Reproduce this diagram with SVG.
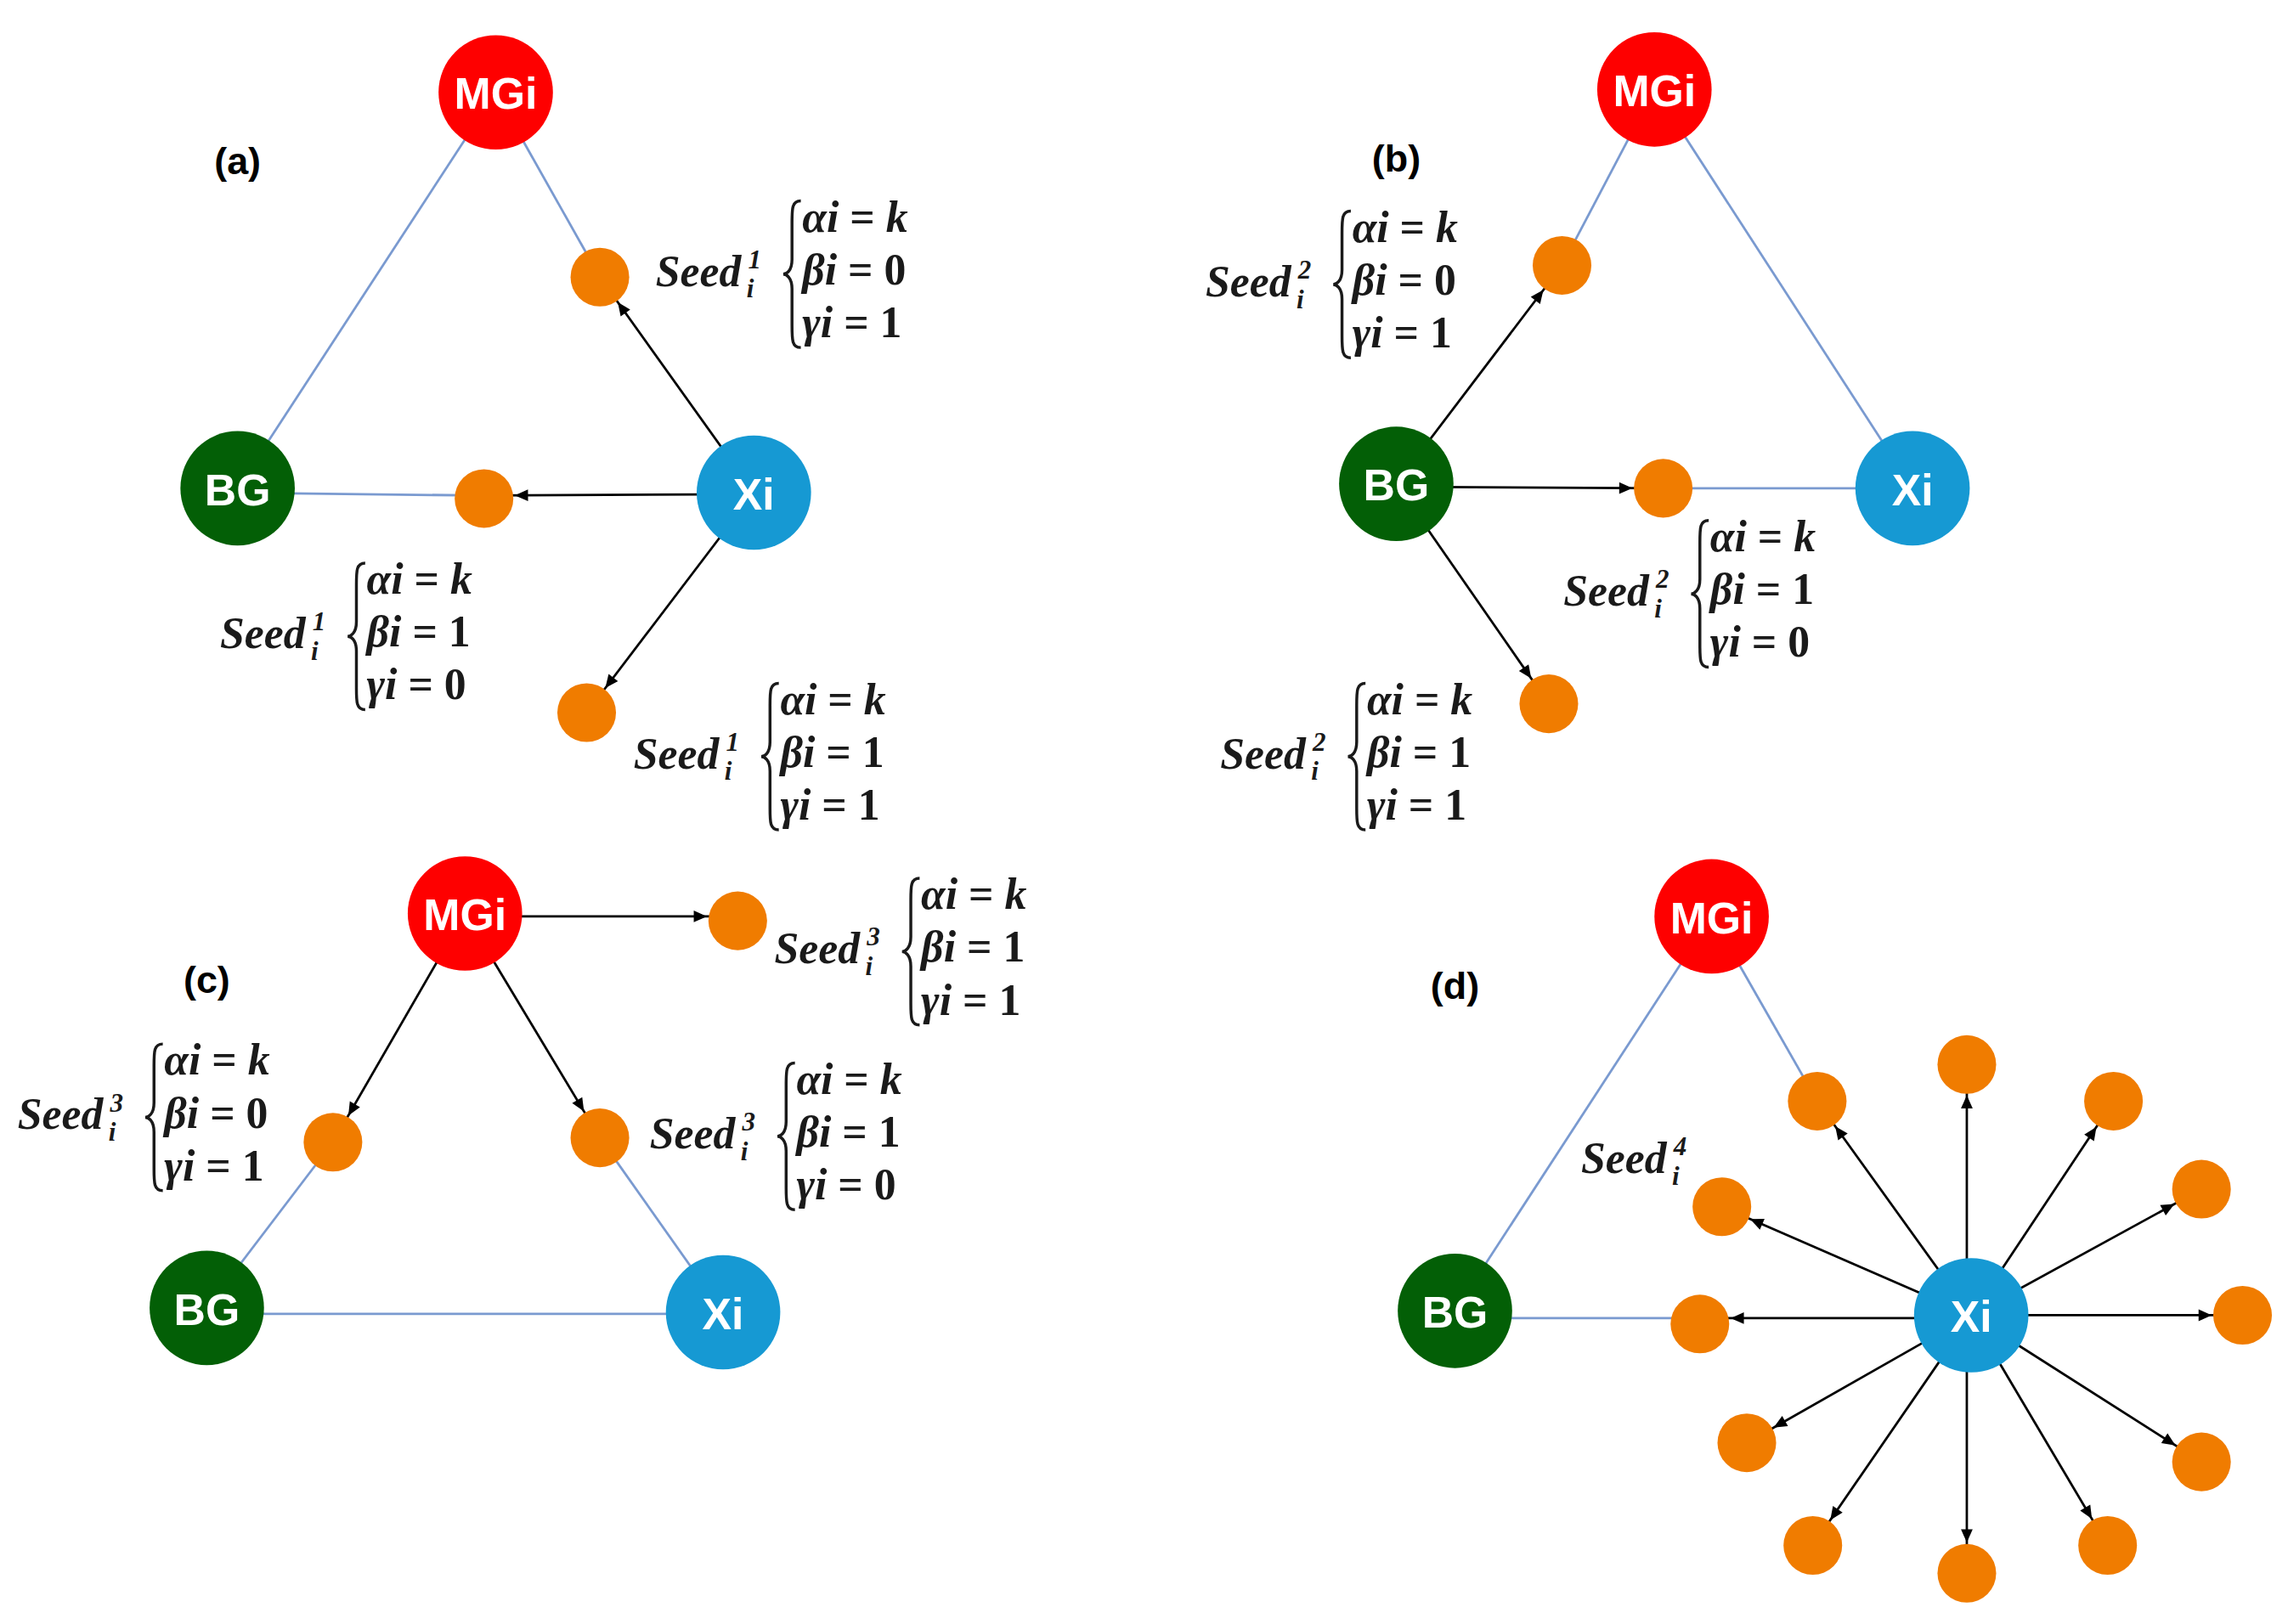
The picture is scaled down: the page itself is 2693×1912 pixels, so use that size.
<svg xmlns="http://www.w3.org/2000/svg" xmlns:xlink="http://www.w3.org/1999/xlink" width="2693" height="1912" viewBox="0 0 2693 1912">
<style>
.nt{font-family:"Liberation Sans",Arial,sans-serif;font-weight:bold;font-size:30px;fill:#fff;text-anchor:middle;dominant-baseline:central}
.pl{font-family:"Liberation Sans",Arial,sans-serif;font-weight:bold;font-size:26px;fill:#000;text-anchor:middle;dominant-baseline:central}
.m{font-family:"Liberation Serif","DejaVu Serif",serif;font-weight:bold;font-style:italic;font-size:30px;fill:#1a1a1a}
.up{font-style:normal}
.ms{font-family:"Liberation Serif","DejaVu Serif",serif;font-weight:bold;font-style:italic;font-size:18px;fill:#1a1a1a}
.bl{stroke:#7a9ad0;stroke-width:1.6;fill:none}
.ar{stroke:#000;stroke-width:1.6;fill:none;marker-end:url(#ah)}
.o{fill:#f07c00}
.brace{stroke:#1a1a1a;stroke-width:2;fill:none}
</style>
<defs>
<marker id="ah" markerUnits="userSpaceOnUse" markerWidth="40" markerHeight="20" refX="21" refY="0" orient="auto" overflow="visible"><path d="M-9,-4 L0,0 L-9,4 z" fill="#000"/></marker>
<path id="br" class="brace" d="M8,-58 C2,-58 2,-53 2,-43 L2,-18 C2,-10 -2,-8 -4,-8 C-2,-8 2,-6 2,2 L2,27 C2,37 2,42 8,42"/>
</defs>
<rect width="2693" height="1912" fill="#fff"/>
<g transform="scale(1.7263)">
<g id="connectors">
<line class="bl" x1="338" y1="63" x2="162" y2="333"/>
<line class="bl" x1="338" y1="63" x2="409" y2="189"/>
<line class="bl" x1="162" y1="336" x2="330" y2="338"/>
<line class="ar" x1="514" y1="336" x2="409" y2="189"/>
<line class="ar" x1="514" y1="337" x2="330" y2="338"/>
<line class="ar" x1="514" y1="336" x2="400" y2="486"/>
<line class="bl" x1="1128" y1="61" x2="1065" y2="181"/>
<line class="bl" x1="1128" y1="61" x2="1304" y2="333"/>
<line class="bl" x1="1134" y1="333" x2="1304" y2="333"/>
<line class="ar" x1="952" y1="330" x2="1065" y2="181"/>
<line class="ar" x1="952" y1="332" x2="1134" y2="333"/>
<line class="ar" x1="952" y1="330" x2="1056" y2="480"/>
<line class="bl" x1="227" y1="779" x2="141" y2="892"/>
<line class="bl" x1="409" y1="776" x2="493" y2="895"/>
<line class="bl" x1="141" y1="896" x2="493" y2="896"/>
<line class="ar" x1="317" y1="625" x2="503" y2="625"/>
<line class="ar" x1="317" y1="623" x2="227" y2="779"/>
<line class="ar" x1="317" y1="623" x2="409" y2="776"/>
<line class="bl" x1="1167" y1="625" x2="992" y2="894"/>
<line class="bl" x1="1167" y1="625" x2="1239" y2="751"/>
<line class="bl" x1="992" y1="899" x2="1159" y2="899"/>
<line class="ar" x1="1344" y1="897" x2="1239" y2="751"/>
<line class="ar" x1="1341" y1="897" x2="1341" y2="726"/>
<line class="ar" x1="1344" y1="897" x2="1441" y2="751"/>
<line class="ar" x1="1344" y1="897" x2="1501" y2="811"/>
<line class="ar" x1="1344" y1="897" x2="1529" y2="897"/>
<line class="ar" x1="1344" y1="897" x2="1501" y2="997"/>
<line class="ar" x1="1344" y1="897" x2="1437" y2="1054"/>
<line class="ar" x1="1341" y1="897" x2="1341" y2="1073"/>
<line class="ar" x1="1344" y1="897" x2="1236" y2="1054"/>
<line class="ar" x1="1344" y1="897" x2="1191" y2="984"/>
<line class="ar" x1="1344" y1="897" x2="1174" y2="823"/>
<line class="ar" x1="1344" y1="899" x2="1159" y2="899"/>
</g>
<g id="seeds">
<circle class="o" cx="409" cy="189" r="20"/><circle class="o" cx="330" cy="340" r="20"/><circle class="o" cx="400" cy="486" r="20"/>
<circle class="o" cx="1065" cy="181" r="20"/><circle class="o" cx="1134" cy="333" r="20"/><circle class="o" cx="1056" cy="480" r="20"/>
<circle class="o" cx="503" cy="628" r="20"/><circle class="o" cx="227" cy="779" r="20"/><circle class="o" cx="409" cy="776" r="20"/>
<circle class="o" cx="1239" cy="751" r="20"/><circle class="o" cx="1341" cy="726" r="20"/><circle class="o" cx="1441" cy="751" r="20"/>
<circle class="o" cx="1501" cy="811" r="20"/><circle class="o" cx="1529" cy="897" r="20"/><circle class="o" cx="1501" cy="997" r="20"/>
<circle class="o" cx="1437" cy="1054" r="20"/><circle class="o" cx="1341" cy="1073" r="20"/><circle class="o" cx="1236" cy="1054" r="20"/>
<circle class="o" cx="1191" cy="984" r="20"/><circle class="o" cx="1174" cy="823" r="20"/><circle class="o" cx="1159" cy="903" r="20"/>
</g>
<g id="a-MGi"><circle cx="338" cy="63" r="39" fill="#fe0000"/><text class="nt" x="338" y="64">MGi</text></g>
<g id="a-BG"><circle cx="162" cy="333" r="39" fill="#035f06"/><text class="nt" x="162" y="334">BG</text></g>
<g id="a-Xi"><circle cx="514" cy="336" r="39" fill="#1699d3"/><text class="nt" x="514" y="337">Xi</text></g>
<g id="b-MGi"><circle cx="1128" cy="61" r="39" fill="#fe0000"/><text class="nt" x="1128" y="62">MGi</text></g>
<g id="b-BG"><circle cx="952" cy="330" r="39" fill="#035f06"/><text class="nt" x="952" y="331">BG</text></g>
<g id="b-Xi"><circle cx="1304" cy="333" r="39" fill="#1699d3"/><text class="nt" x="1304" y="334">Xi</text></g>
<g id="c-MGi"><circle cx="317" cy="623" r="39" fill="#fe0000"/><text class="nt" x="317" y="624">MGi</text></g>
<g id="c-BG"><circle cx="141" cy="892" r="39" fill="#035f06"/><text class="nt" x="141" y="893">BG</text></g>
<g id="c-Xi"><circle cx="493" cy="895" r="39" fill="#1699d3"/><text class="nt" x="493" y="896">Xi</text></g>
<g id="d-MGi"><circle cx="1167" cy="625" r="39" fill="#fe0000"/><text class="nt" x="1167" y="626">MGi</text></g>
<g id="d-BG"><circle cx="992" cy="894" r="39" fill="#035f06"/><text class="nt" x="992" y="895">BG</text></g>
<g id="d-Xi"><circle cx="1344" cy="897" r="39" fill="#1699d3"/><text class="nt" x="1344" y="898">Xi</text></g>
<g id="panel-labels">
<text class="pl" x="162" y="110">(a)</text><text class="pl" x="952" y="108">(b)</text>
<text class="pl" x="141" y="668">(c)</text><text class="pl" x="992" y="672">(d)</text>
</g>
<g id="labels">
<g transform="translate(447,195)"><text class="m" x="0" y="0">Seed</text><text class="ms up" x="63" y="-12">1</text><text class="ms" x="62" y="8">i</text><use xlink:href="#br" x="91"/><text class="m" x="100" y="-37">αi <tspan class="up">= </tspan>k</text><text class="m" x="100" y="-1">βi <tspan class="up">= 0</tspan></text><text class="m" x="100" y="35">γi <tspan class="up">= 1</tspan></text></g>
<g transform="translate(150,442)"><text class="m" x="0" y="0">Seed</text><text class="ms up" x="63" y="-12">1</text><text class="ms" x="62" y="8">i</text><use xlink:href="#br" x="91"/><text class="m" x="100" y="-37">αi <tspan class="up">= </tspan>k</text><text class="m" x="100" y="-1">βi <tspan class="up">= 1</tspan></text><text class="m" x="100" y="35">γi <tspan class="up">= 0</tspan></text></g>
<g transform="translate(432,524)"><text class="m" x="0" y="0">Seed</text><text class="ms up" x="63" y="-12">1</text><text class="ms" x="62" y="8">i</text><use xlink:href="#br" x="91"/><text class="m" x="100" y="-37">αi <tspan class="up">= </tspan>k</text><text class="m" x="100" y="-1">βi <tspan class="up">= 1</tspan></text><text class="m" x="100" y="35">γi <tspan class="up">= 1</tspan></text></g>
<g transform="translate(822,202)"><text class="m" x="0" y="0">Seed</text><text class="ms up" x="63" y="-12">2</text><text class="ms" x="62" y="8">i</text><use xlink:href="#br" x="91"/><text class="m" x="100" y="-37">αi <tspan class="up">= </tspan>k</text><text class="m" x="100" y="-1">βi <tspan class="up">= 0</tspan></text><text class="m" x="100" y="35">γi <tspan class="up">= 1</tspan></text></g>
<g transform="translate(1066,413)"><text class="m" x="0" y="0">Seed</text><text class="ms up" x="63" y="-12">2</text><text class="ms" x="62" y="8">i</text><use xlink:href="#br" x="91"/><text class="m" x="100" y="-37">αi <tspan class="up">= </tspan>k</text><text class="m" x="100" y="-1">βi <tspan class="up">= 1</tspan></text><text class="m" x="100" y="35">γi <tspan class="up">= 0</tspan></text></g>
<g transform="translate(832,524)"><text class="m" x="0" y="0">Seed</text><text class="ms up" x="63" y="-12">2</text><text class="ms" x="62" y="8">i</text><use xlink:href="#br" x="91"/><text class="m" x="100" y="-37">αi <tspan class="up">= </tspan>k</text><text class="m" x="100" y="-1">βi <tspan class="up">= 1</tspan></text><text class="m" x="100" y="35">γi <tspan class="up">= 1</tspan></text></g>
<g transform="translate(528,657)"><text class="m" x="0" y="0">Seed</text><text class="ms up" x="63" y="-12">3</text><text class="ms" x="62" y="8">i</text><use xlink:href="#br" x="91"/><text class="m" x="100" y="-37">αi <tspan class="up">= </tspan>k</text><text class="m" x="100" y="-1">βi <tspan class="up">= 1</tspan></text><text class="m" x="100" y="35">γi <tspan class="up">= 1</tspan></text></g>
<g transform="translate(12,770)"><text class="m" x="0" y="0">Seed</text><text class="ms up" x="63" y="-12">3</text><text class="ms" x="62" y="8">i</text><use xlink:href="#br" x="91"/><text class="m" x="100" y="-37">αi <tspan class="up">= </tspan>k</text><text class="m" x="100" y="-1">βi <tspan class="up">= 0</tspan></text><text class="m" x="100" y="35">γi <tspan class="up">= 1</tspan></text></g>
<g transform="translate(443,783)"><text class="m" x="0" y="0">Seed</text><text class="ms up" x="63" y="-12">3</text><text class="ms" x="62" y="8">i</text><use xlink:href="#br" x="91"/><text class="m" x="100" y="-37">αi <tspan class="up">= </tspan>k</text><text class="m" x="100" y="-1">βi <tspan class="up">= 1</tspan></text><text class="m" x="100" y="35">γi <tspan class="up">= 0</tspan></text></g>
<g transform="translate(1078,800)"><text class="m" x="0" y="0">Seed</text><text class="ms up" x="63" y="-12">4</text><text class="ms" x="62" y="8">i</text></g>
</g>
</g>
</svg>
